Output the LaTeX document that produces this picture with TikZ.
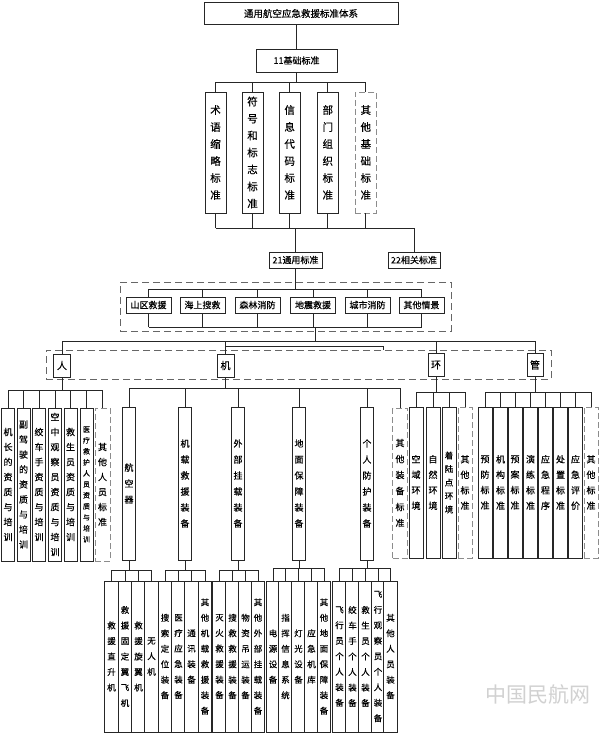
\documentclass[tikz,border=0pt]{standalone}
\usepackage{fontspec}
\usetikzlibrary{calc}
\newfontfamily\cjk[FakeBold=0.35]{Noto Sans CJK SC}
\newfontfamily\cjkwm{Noto Sans CJK SC}
\makeatletter
\def\vt#1{\expandafter\vt@a#1\vt@end}
\def\vt@a#1#2\vt@end{#1\ifx\relax#2\relax\else\\\vt@a#2\vt@end\fi}
\makeatother
\tikzset{
 ln/.style={draw=black!85, line width=0.7pt},
 hb/.style={draw=black!85, line width=0.8pt, fill=white, inner sep=0pt, font=\cjk\fontsize{9}{11}\selectfont},
 vb/.style={hb, align=center, text width=9.5pt, font=\cjk\fontsize{9}{15}\selectfont},
 vbone/.style={vb, minimum width=21pt, minimum height=121pt, text width=11pt, font=\cjk\fontsize{10.5}{17}\selectfont},
 vbren/.style={vb, minimum width=13pt, minimum height=153pt},
 vbji/.style={vb, minimum width=13pt, minimum height=153pt, font=\cjk\fontsize{9}{16}\selectfont},
 vbhg/.style={vb, minimum width=14pt, minimum height=151pt, font=\cjk\fontsize{9}{15.5}\selectfont},
 vbfour/.style={vb, minimum width=13.3pt, minimum height=151pt, text width=9pt, font=\cjk\fontsize{8.5}{15.5}\selectfont},
 dashbox/.style={draw=black!45, dash pattern=on 6pt off 3pt},
 cont/.style={draw=black!60, line width=0.8pt, dash pattern=on 7pt off 4pt, inner sep=0pt},
 sc/.style={hb, minimum width=45pt, minimum height=16pt},
 rj/.style={hb, minimum width=17pt, minimum height=23pt, font=\cjk\fontsize{10}{11}\selectfont},
}
\begin{document}
\begin{tikzpicture}[x=1pt,y=-1pt]
\useasboundingbox (0,0) rectangle (600,735);
\fill[white] (0,0) rectangle (600,735);
% bus levels
\coordinate (y82) at (0,82);
\coordinate (y228) at (0,228);
\coordinate (y289) at (0,289);
\coordinate (y327) at (0,327);
\coordinate (y341) at (0,341);
\coordinate (y346) at (0,346);
\coordinate (y388) at (0,388);
\coordinate (y390) at (0,390);
\coordinate (y392) at (0,392);
\coordinate (y568) at (0,568);
\coordinate (y570) at (0,570);
% containers
\node[cont, minimum width=331pt, minimum height=49pt] (scn) at (285.5,306.5) {};
\node[cont, minimum width=505pt, minimum height=29pt] (rjhg) at (298.5,364.5) {};
% level 0
\node[hb, minimum width=194pt, minimum height=22pt, font=\cjk\fontsize{9.5}{11}\selectfont] (root) at (301,13.5) {通用航空应急救援标准体系};
\node[hb, minimum width=81pt, minimum height=23pt] (base) at (296.5,60.5) {11基础标准};
\draw[ln] (base.north) -- (base.north |- root.south);
% level 1
\foreach \n/\x/\t in {b1/215.5/术语缩略标准, b2/252.5/符号和标志标准, b3/289.7/信息代码标准, b4/327.8/部门组织标准}
  \node[vbone] (\n) at (\x,152.5) {\vt{\t}};
\node[vbone, dashbox] (b5) at (365.8,152.5) {\vt{其他基础标准}};
\draw[ln] (base.south) -- (base.south |- y82);
\draw[ln] (b1.north |- y82) -- (b5.north |- y82);
\foreach \n in {b1,b2,b3,b4,b5} {
  \draw[ln] (\n.north) -- (\n.north |- y82);
  \draw[ln] (\n.south) -- (\n.south |- y228);
}
\node[hb, minimum width=53pt, minimum height=16pt] (gen) at (295.5,260) {21通用标准};
\node[hb, minimum width=52pt, minimum height=16pt] (rel) at (414,260) {22相关标准};
\draw[ln] (b1.south |- y228) -- (rel.north |- y228);
\draw[ln] (gen.north) -- (gen.north |- y228);
\draw[ln] (rel.north) -- (rel.north |- y228);
% scenarios
\foreach \n/\x/\t in {s1/148.5/山区救援, s2/202.5/海上搜救, s3/257.5/森林消防, s4/313/地震救援, s5/367.5/城市消防, s6/421.5/其他情景}
  \node[sc] (\n) at (\x,305) {\t};
\draw[ln] (gen.south) -- (gen.south |- y289);
\draw[ln] (s1.north |- y289) -- (s6.north |- y289);
\draw[ln] (s1.south |- y327) -- (s6.south |- y327);
\foreach \n in {s1,s2,s3,s4,s5,s6} {
  \draw[ln] (\n.north) -- (\n.north |- y289);
  \draw[ln] (\n.south) -- (\n.south |- y327);
}
% ren ji huan guan
\node[rj] (ren) at (62,365.5) {人};
\node[rj] (ji) at (225.5,365.5) {机};
\node[rj, minimum width=16pt] (huan) at (436,365) {环};
\node[rj, minimum width=16pt] (guan) at (535,365) {管};
\draw[ln] ($(s4.south |- y327)+(2,0)$) -- ($(s4.south |- y341)+(2,0)$);
\draw[ln] (ren.north |- y341) -- (guan.north |- y341);
\foreach \n in {ren,ji,huan,guan}
  \draw[ln] (\n.north) -- (\n.north |- y341);
\draw[ln] (ji.north |- y346) -- ++(158,0) -- ++(0,4);
% ren children
\foreach \n/\x/\t in {p1/8/机长的资质与培训, p2/23.5/副驾驶的资质与培训, p3/39/绞车手资质与培训, p4/55/空中观察员资质与培训, p5/70.5/救生员资质与培训}
  \node[vbren] (\n) at (\x,484.5) {\vt{\t}};
\node[vbren, font=\cjk\fontsize{7}{11}\selectfont, text width=8pt] (p6) at (86.5,484.5) {\vt{医疗救护人员资质与培训}};
\node[vbren, dashbox, minimum width=15pt] (p7) at (102.5,484.5) {\vt{其他人员标准}};
\draw[ln] (ren.south) -- (ren.south |- y390);
\draw[ln] (p1.north |- y390) -- (p7.north |- y390);
\foreach \n in {p1,p2,p3,p4,p5,p6,p7}
  \draw[ln] (\n.north) -- (\n.north |- y390);
% ji children
\foreach \n/\x/\t in {m1/129/航空器, m2/185/机载救援装备, m3/238/外部挂载装备, m4/299/地面保障装备, m5/367/个人防护装备}
  \node[vbji] (\n) at (\x,483.5) {\vt{\t}};
\node[vbji, dashbox, minimum width=15pt, minimum height=150pt] (m6) at (400,483) {\vt{其他装备标准}};
\draw[ln] (ji.south) -- (ji.south |- y388);
\draw[ln] (m1.north |- y388) -- (m6.north |- y388);
\foreach \n in {m1,m2,m3,m4,m5,m6}
  \draw[ln] (\n.north) -- (\n.north |- y388);
% huan children
\foreach \n/\x/\t in {h1/416/空域环境, h2/433/自然环境}
  \node[vbhg] (\n) at (\x,482.5) {\vt{\t}};
\node[vbhg, font=\cjk\fontsize{8.5}{13.5}\selectfont] (h3) at (449,482.5) {\vt{着陆点环境}};
\node[vbhg, dashbox] (h4) at (465,482.5) {\vt{其他标准}};
\draw[ln] (huan.south) -- (huan.south |- y392);
\draw[ln] (h1.north |- y392) -- (h4.north |- y392);
\foreach \n in {h1,h2,h3,h4}
  \draw[ln] (\n.north) -- (\n.north |- y392);
% guan children
\foreach \n/\x/\t in {g1/485/预防标准, g2/500.5/机构标准, g3/515/预案标准, g4/530.5/演练标准, g5/545.5/应急程序, g6/560.5/处置标准, g7/575.5/应急评价}
  \node[vbhg] (\n) at (\x,482.5) {\vt{\t}};
\node[vbhg, dashbox] (g8) at (591,482.5) {\vt{其他标准}};
\draw[ln] (guan.south) -- (guan.south |- y392);
\draw[ln] (g1.north |- y392) -- (g8.north |- y392);
\foreach \n in {g1,g2,g3,g4,g5,g6,g7,g8}
  \draw[ln] (\n.north) -- (\n.north |- y392);
% level 4
\foreach \n/\x/\t in {a1/111.5/救援直升机, a2/125/救援固定翼飞机, a3/138.5/救援旋翼机, a4/151.5/无人机,
  k1/165/搜索定位装备, k2/178.5/医疗应急装备, k3/191.5/通讯装备, k4/205/其他机载救援装备,
  e1/219.5/灭火救援装备, e2/232.5/搜救救援装备, e3/245.5/物资吊运装备, e4/258/其他外部挂载装备,
  d1/273/电源设备, d2/285.5/指挥信息系统, d3/298.5/灯光设备, d4/311.5/应急机库, d5/324/其他地面保障装备,
  r1/339.5/飞行员个人装备, r2/352.5/绞车手个人装备, r3/365.5/救生员个人装备, r4/378/飞行观察员个人装备, r5/390.5/其他人员装备}
  \node[vbfour] (\n) at (\x,656.5) {\vt{\t}};
\draw[ln] (m1.south) -- (m1.south |- y570);
\draw[ln] (a1.north |- y570) -- (a4.north |- y570);
\foreach \n in {a1,a2,a3,a4} \draw[ln] (\n.north) -- (\n.north |- y570);
\draw[ln] (m2.south) -- (m2.south |- y570);
\draw[ln] (k1.north |- y570) -- (k4.north |- y570);
\foreach \n in {k1,k2,k3,k4} \draw[ln] (\n.north) -- (\n.north |- y570);
\draw[ln] (m3.south) -- (m3.south |- y570);
\draw[ln] (e1.north |- y570) -- (e4.north |- y570);
\foreach \n in {e1,e2,e3,e4} \draw[ln] (\n.north) -- (\n.north |- y570);
\draw[ln] (m4.south) -- (m4.south |- y568);
\draw[ln] (d1.north |- y568) -- (d5.north |- y568);
\foreach \n in {d1,d2,d3,d4,d5} \draw[ln] (\n.north) -- (\n.north |- y568);
\draw[ln] (m5.south) -- (m5.south |- y568);
\draw[ln] (r1.north |- y568) -- (r5.north |- y568);
\foreach \n in {r1,r2,r3,r4,r5} \draw[ln] (\n.north) -- (\n.north |- y568);
% watermark
\node[font=\cjkwm\fontsize{21}{22}\selectfont, text=black!18] (wm) at (538,694) {中国民航网};
\end{tikzpicture}
\end{document}
